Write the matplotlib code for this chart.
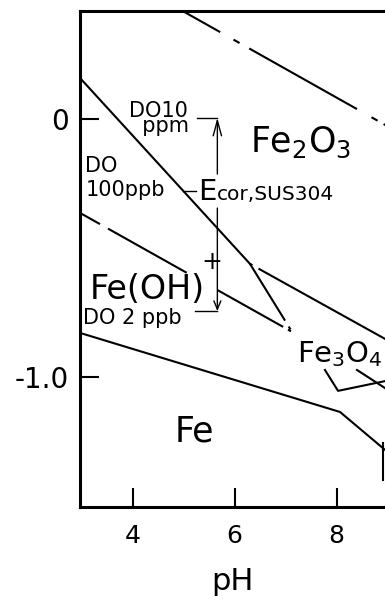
import matplotlib
matplotlib.use("Agg")
import matplotlib.pyplot as plt

plt.rcParams['font.family'] = ['DejaVu Sans']
plt.rcParams['mathtext.fontset'] = 'dejavusans'
plt.rcParams['lines.scale_dashes'] = False

# phase boundaries, pH vs E (V)
o2_ph = [4.98, 9.0]
o2_E = [0.421, -0.027]
fe2o3_fe2_ph = [2.967, 6.30]
fe2o3_fe2_E = [0.161, -0.561]
fe3o4_fe2_ph = [6.30, 7.124]
fe3o4_fe2_E = [-0.561, -0.825]
fe2_feoh_ph = [2.967, 7.124]
fe2_feoh_E = [-0.363, -0.825]
fe2o3_fe3o4_ph = [6.30, 9.0]
fe2o3_fe3o4_E = [-0.561, -0.858]
fe_fe2_ph = [2.967, 8.065, 9.0]
fe_fe2_E = [-0.829, -1.136, -1.292]
fe3o4_low_ph = [7.77, 8.026, 9.0]
fe3o4_low_E = [-0.973, -1.054, -1.014]
feoh_fe3o4_ph = [8.398, 9.0]
feoh_fe3o4_E = [-0.973, -1.050]
fe3o4_fe_ph = [8.05, 8.05]
fe3o4_fe_E = [-1.054, -1.136]
edge_ph = [8.908, 8.908]
edge_E = [-1.256, -1.400]

# corrosion potential of SUS304 vs dissolved oxygen
ecor_ph = 5.66
do_E = [0.006, -0.278, -0.744]   # 10 ppm, 100 ppb, 2 ppb

xticks = [4, 6, 8]
xlabels = ["4", "6", "8"]
yticks = [0, -1.0]
ylabels = ["0", "-1.0"]

fig = plt.figure(figsize=(3.85, 6.05), dpi=100)
ax = fig.add_axes([0.2078, 0.1620, 0.7922, 0.8198])
ax.set_xlim(2.967, 8.947)
ax.set_ylim(-1.505, 0.421)

lw = 1.5
ax.plot(o2_ph, o2_E, color='k', lw=lw, ls=(0, (31, 11, 5, 8, 89, 12, 5, 5, 89, 11, 5, 8)))
ax.plot(fe2o3_fe2_ph, fe2o3_fe2_E, color='k', lw=lw)
ax.plot(fe3o4_fe2_ph, fe3o4_fe2_E, color='k', lw=lw, ls=(0, (48, 5, 2.5, 20)))
ax.plot(fe2_feoh_ph, fe2_feoh_E, color='k', lw=lw, ls=(0, (16.5, 6.6, 65, 25.6, 54, 4, 2.5, 50)))
ax.plot(fe2o3_fe3o4_ph, fe2o3_fe3o4_E, color='k', lw=lw, ls=(0, (2, 5, 300)))
ax.plot(fe_fe2_ph, fe_fe2_E, color='k', lw=lw)
ax.plot(fe3o4_low_ph, fe3o4_low_E, color='k', lw=lw)
ax.plot(feoh_fe3o4_ph, feoh_fe3o4_E, color='k', lw=lw)
ax.plot(fe3o4_fe_ph, fe3o4_fe_E, color='k', lw=1.0, ls=(6, (6, 30)))
ax.plot(edge_ph, edge_E, color='k', lw=lw)

# Ecor range arrow, broken around the label
gap = 0.066
ax.annotate("", xy=(ecor_ph, do_E[0]), xytext=(ecor_ph, do_E[1] + gap),
            arrowprops=dict(arrowstyle="->,head_length=1.1,head_width=0.3",
                            lw=1.0, color='k', shrinkA=0, shrinkB=0))
ax.annotate("", xy=(ecor_ph, do_E[2]), xytext=(ecor_ph, do_E[1] - gap),
            arrowprops=dict(arrowstyle="->,head_length=0.6,head_width=0.25",
                            lw=1.0, color='k', shrinkA=0, shrinkB=0))
ax.plot([5.26, ecor_ph], [do_E[0], do_E[0]], color='k', lw=1.0)
ax.plot([4.99, 5.24], [do_E[1], do_E[1]], color='k', lw=1.0)
ax.plot([5.22, ecor_ph], [do_E[2], do_E[2]], color='k', lw=1.0)

# labels
ax.text(6.30, -0.126, r"Fe$_2$O$_3$", fontsize=25, va='baseline')
ax.text(3.928, -0.049, "DO10\n  ppm", fontsize=15, va='baseline', linespacing=0.7)
ax.text(3.065, -0.204, "DO", fontsize=15, va='baseline')
ax.text(3.085, -0.297, "100ppb", fontsize=15, va='baseline')
ax.text(5.28, -0.313, "E", fontsize=21, va='baseline')
ax.text(5.653, -0.313, "cor,SUS304", fontsize=14.5, va='baseline')
ax.text(3.163, -0.699, "Fe(OH)", fontsize=24, va='baseline')
ax.text(5.555, -0.553, "+", fontsize=18, ha='center', va='center')
ax.text(3.026, -0.794, "DO 2 ppb", fontsize=15, va='baseline')
ax.text(7.22, -0.942, r"Fe$_3$O$_4$", fontsize=21, va='baseline')
ax.text(4.83, -1.252, "Fe", fontsize=25, va='baseline')

ax.set_xticks(xticks)
ax.set_xticklabels(xlabels)
ax.set_yticks(yticks)
ax.set_yticklabels(ylabels)
ax.tick_params(axis='x', direction='in', length=13.5, width=1.5, labelsize=18, pad=12)
ax.tick_params(axis='y', direction='in', length=13.5, width=1.5, labelsize=20, pad=8)
ax.set_xlabel("pH", fontsize=22)
ax.xaxis.set_label_coords(0.5, -0.121)

for s in ['left', 'bottom', 'top']:
    ax.spines[s].set_linewidth(2.2)
ax.spines['right'].set_visible(False)

fig.savefig("out.png", dpi=100)
